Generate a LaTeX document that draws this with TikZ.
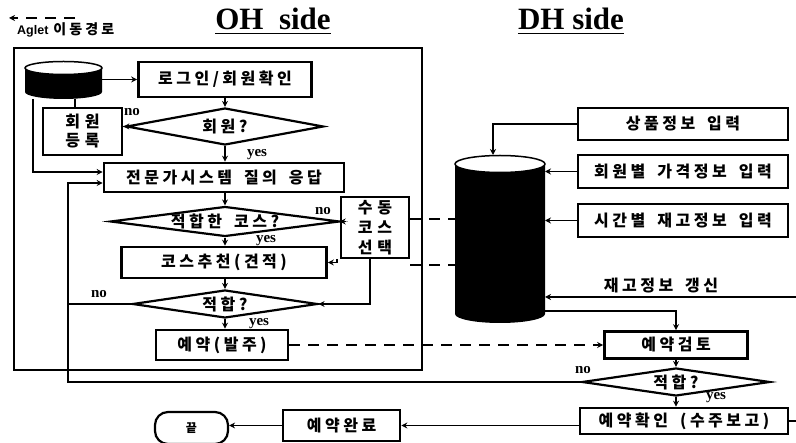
\documentclass[tikz,border=0pt]{standalone}
\usepackage{fontspec}
\setmainfont{Liberation Serif}
\newfontfamily\krfont{Noto Sans CJK KR}[LetterSpace=22]
\newfontfamily\lsfont{Liberation Sans}
\usetikzlibrary{shapes.geometric,arrows.meta,calc}
\tikzset{
  box/.style={draw, line width=2.6pt, rectangle, inner sep=0pt, align=center,
    font=\krfont\bfseries\fontsize{16}{19}\selectfont},
  dia/.style={draw, line width=2.2pt, diamond, aspect=8, inner sep=0pt,
    font=\krfont\bfseries\fontsize{16}{16}\selectfont},
  conn/.style={line width=1.8pt},
  arr/.style={conn, -{Stealth[length=6pt,width=6pt]}},
  agl/.style={line width=1.8pt, dash pattern=on 11pt off 8pt},
  lab/.style={inner sep=0pt, font=\bfseries\fontsize{15}{15}\selectfont},
  krlab/.style={inner sep=0pt, font=\krfont\bfseries\fontsize{16}{16}\selectfont},
  anch/.style={inner sep=0pt, outer sep=0pt},
}
\newcommand{\ws}{\hspace{12pt}}
\newcommand{\wn}{\hspace{5pt}}
\begin{document}
\begin{tikzpicture}[x=1pt,y=-1pt]
\useasboundingbox (0,0) rectangle (796,443);

% legend and titles
\coordinate (lgA) at (75,18);
\coordinate (lgB) at (9,18);
\draw[agl,-{Stealth[length=6pt,width=6pt]}] (lgA) -- (lgB);
\node[anchor=base west, inner sep=0pt] (lgT) at (17,35)
  {{\lsfont\bfseries\fontsize{12.5}{12}\selectfont Aglet}\hspace{5pt}{\krfont\bfseries\fontsize{14}{14}\selectfont 이동경로}};
\node[anchor=base, inner sep=0pt, font=\bfseries\fontsize{31}{31}\selectfont] (ohT) at (273,30) {OH\ \ side};
\draw[line width=1.6pt] ([yshift=-3.5pt]ohT.base west) -- ([yshift=-3.5pt]ohT.base east);
\node[anchor=base, inner sep=0pt, font=\bfseries\fontsize{31}{31}\selectfont] (dhT) at (571,30) {DH side};
\draw[line width=1.6pt] ([yshift=-3.5pt]dhT.base west) -- ([yshift=-3.5pt]dhT.base east);

% OH frame
\node[draw, line width=2.4pt, minimum width=408pt, minimum height=322pt, inner sep=0pt] (frame) at (218,209) {};

% small database cylinder (drawn), with anchor node
\fill[black] (25,68) -- (25,92) arc[start angle=180, end angle=0, x radius=38.5, y radius=7] -- (102,68) -- cycle;
\filldraw[fill=white, draw=black, line width=1.5pt] (63.5,68) ellipse[x radius=38.5, y radius=6.5];
\node[anch, minimum width=77pt, minimum height=38pt] (db) at (63.5,80) {};

% OH nodes
\node[box, minimum width=173pt, minimum height=35pt] (login) at (225,79.5) {로그인/회원확인};
\node[dia, minimum width=197pt, minimum height=37pt] (mem) at (225,126.5) {회원?};
\node[box, minimum width=79pt, minimum height=47pt] (reg) at (82.5,131.5) {회\wn 원\\등\wn 록};
\node[box, minimum width=240pt, minimum height=29pt] (expert) at (224,177.5) {전문가시스템\ws 질의\ws 응답};
\node[dia, minimum width=209pt, minimum height=30pt] (course) at (225,221.5) {적합한\ws 코스?};
\node[box, minimum width=68pt, minimum height=61pt, font=\krfont\bfseries\fontsize{16}{20}\selectfont] (suji) at (375,227.5) {수\wn 동\\코\wn 스\\선\wn 택};
\node[box, minimum width=205pt, minimum height=31pt] (recommend) at (224,262.5) {코스추천(견적)};
\node[dia, minimum width=185pt, minimum height=28pt] (fit1) at (225,304) {적합?};
\node[box, minimum width=132pt, minimum height=30pt] (order) at (222,345) {예약(발주)};

% DH cylinder (drawn), with anchor node
\fill[black] (455,164) -- (455,314) arc[start angle=180, end angle=0, x radius=45, y radius=9] -- (545,164) -- cycle;
\filldraw[fill=white, draw=black, line width=1.5pt] (500,164) ellipse[x radius=45, y radius=8.5];
\node[anch, minimum width=90pt, minimum height=168pt] (cyl) at (500,239) {};

% DH nodes
\node[box, minimum width=210pt, minimum height=32pt] (prod) at (683,124) {상품정보\ws 입력};
\node[box, minimum width=210pt, minimum height=33pt] (price) at (683,171.5) {회원별\ws 가격정보\ws 입력};
\node[box, minimum width=210pt, minimum height=33pt] (stock) at (683,220.5) {시간별\ws 재고정보\ws 입력};
\node[box, minimum width=143pt, minimum height=27pt] (review) at (676,345) {예약검토};
\node[dia, minimum width=188pt, minimum height=28pt] (fit2) at (676,382) {적합?};
\node[box, minimum width=208pt, minimum height=26pt] (confirm) at (684,421) {예약확인\ws (수주보고)};
\node[box, minimum width=117pt, minimum height=31pt] (done) at (341.5,425.5) {예약완료};
\node[draw, line width=2.2pt, rounded corners=13pt, minimum width=73pt, minimum height=32pt, inner sep=0pt,
  font=\krfont\bfseries\fontsize{12}{12}\selectfont] (endn) at (191.5,428) {끝};

% labels
\node[lab] (l1) at (132,112) {no};
\node[lab] (l2) at (257,155) {yes};
\node[lab] (l3) at (323,211) {no};
\node[lab] (l4) at (266,241) {yes};
\node[lab] (l5) at (99,294) {no};
\node[lab] (l6) at (259,324) {yes};
\node[lab] (l7) at (583,370) {no};
\node[lab] (l8) at (716,398) {yes};
\node[krlab] (l9) at (661,286) {재고정보\ws 갱신};

% helper coordinates
\coordinate (lx) at (68,382);
\coordinate (rt) at (796,297);
\coordinate (rb) at (796,421);

% OH connectors
\draw[arr] (db.east |- login.west) -- (login.west);
\draw[arr] (login.south) -- (login.south |- mem.north);
\draw[arr] (mem.west) -- (mem.west -| reg.east);
\draw[conn] ([xshift=11.5pt]db.south) -- ([xshift=-7.5pt]reg.north);
\draw[arr] ([xshift=-30.5pt]db.south) |- ([yshift=5.5pt]expert.west);
\draw[arr] (mem.south) -- (mem.south |- expert.north);
\draw[arr] (expert.south -| course.north) -- (course.north);
\draw[arr] (course.east) -- (course.east -| suji.west);
\draw[arr] (course.south) -- (course.south |- recommend.north);
\draw[arr] ([xshift=-3pt]suji.south west) |- (recommend.east);
\draw[arr] ([xshift=-5pt]suji.south) |- (fit1.east);
\draw[arr] (recommend.south -| fit1.north) -- (fit1.north);
\draw[arr] (fit1.south) -- (fit1.south |- order.north);
\draw[conn] (fit1.west) -- (fit1.west -| lx);
\draw[arr] (fit2.west) -- (lx) |- ([yshift=-5.5pt]expert.west);

% Aglet paths
\draw[agl] ([yshift=8.5pt]suji.east) -- ([yshift=8.5pt]suji.east -| cyl.west);
\draw[agl] ([yshift=-6pt]suji.south east) -- ([yshift=-6pt]suji.south east -| cyl.west);
\draw[agl,-{Stealth[length=6pt,width=6pt]}] (order.east) -- (order.east -| review.west);

% DH connectors
\draw[arr] (prod.west) -| ([xshift=-7pt]cyl.north);
\draw[arr] (price.west) -- (price.west -| cyl.east);
\draw[arr] (stock.west) -- (stock.west -| cyl.east);
\draw[arr] (rt) -- (rt -| cyl.east);
\draw[arr] ([yshift=-72pt]cyl.east) -| (review.north);
\draw[arr] (review.south) -- (review.south |- fit2.north);
\draw[arr] (fit2.south) -- (fit2.south |- confirm.north);
\draw[conn] (confirm.east) -- (rb);
\draw[arr] (confirm.west |- done.east) -- (done.east);
\draw[arr] (done.west) -- (done.west -| endn.east);
\end{tikzpicture}
\end{document}
